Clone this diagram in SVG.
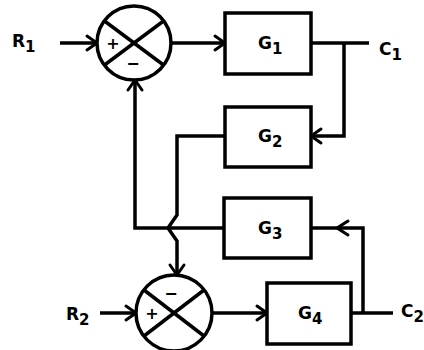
<svg xmlns="http://www.w3.org/2000/svg" width="424" height="350" viewBox="0 0 424 350">
<style>
.ln{fill:none;stroke:#000;stroke-width:3.5;stroke-linejoin:miter}
.bx{fill:#fff;stroke:#000;stroke-width:3.5}
.sj{fill:#fff;stroke:#000;stroke-width:3.5}
.t{font-family:"DejaVu Sans",Verdana,sans-serif;font-weight:bold;font-size:17px;fill:#000}
.s{font-size:15px}
.sg{font-family:"DejaVu Sans",Verdana,sans-serif;font-weight:bold;font-size:16px;fill:#000;text-anchor:middle}
.ah{fill:none;stroke:#000;stroke-width:3;stroke-linecap:round}
</style>
<defs>
<marker id="arr" markerUnits="userSpaceOnUse" markerWidth="14" markerHeight="18" refX="11" refY="8" orient="auto" overflow="visible">
<path d="M1,1 L11,8 L1,15" class="ah"/>
</marker>
</defs>
<rect width="424" height="350" fill="#fff"/>
<g id="connectors">
<line class="ln" x1="60" y1="43" x2="97" y2="43" marker-end="url(#arr)"/>
<line class="ln" x1="171" y1="43" x2="225" y2="43" marker-end="url(#arr)"/>
<line class="ln" x1="311" y1="43" x2="369" y2="43"/>
<polyline class="ln" points="344,43 344,136 311,136" marker-end="url(#arr)"/>
<polyline class="ln" points="225,136 177,136 177,215 168,228 177,241 177,275" marker-end="url(#arr)"/>
<polyline class="ln" points="363,313 363,228 337,228"/>
<line class="ln" x1="337" y1="228" x2="311" y2="228"/>
<path class="ah" d="M348,221 L337,228 L348,235"/>
<polyline class="ln" points="224,228 135,228 135,80" marker-end="url(#arr)"/>
<line class="ln" x1="100" y1="313" x2="136" y2="313" marker-end="url(#arr)"/>
<line class="ln" x1="212" y1="313" x2="267" y2="313" marker-end="url(#arr)"/>
<line class="ln" x1="351" y1="313" x2="393" y2="313"/>
</g>
<g id="sum1">
<circle class="sj" cx="134" cy="43" r="37"/>
<line class="ln" x1="104.5" y1="21" x2="163.5" y2="65"/>
<line class="ln" x1="163.5" y1="21" x2="104.5" y2="65"/>
<text class="sg" x="113" y="49">+</text>
<text class="sg" x="133" y="69">−</text>
</g>
<g id="sum2">
<circle class="sj" cx="174" cy="313" r="38"/>
<line class="ln" x1="144" y1="290" x2="204" y2="336"/>
<line class="ln" x1="204" y1="290" x2="144" y2="336"/>
<text class="sg" x="171" y="299">−</text>
<text class="sg" x="152" y="319">+</text>
</g>
<g id="G1">
<rect class="bx" x="225" y="13" width="86" height="61"/>
<text class="t" x="258" y="49">G<tspan class="s" dy="5">1</tspan></text>
</g>
<g id="G2">
<rect class="bx" x="225" y="107" width="86" height="60"/>
<text class="t" x="258" y="142">G<tspan class="s" dy="5">2</tspan></text>
</g>
<g id="G3">
<rect class="bx" x="224" y="198" width="87" height="60"/>
<text class="t" x="258" y="234">G<tspan class="s" dy="5">3</tspan></text>
</g>
<g id="G4">
<rect class="bx" x="267" y="283" width="84" height="61"/>
<text class="t" x="298" y="319">G<tspan class="s" dy="5">4</tspan></text>
</g>
<g id="labels">
<text class="t" x="12" y="47">R<tspan class="s" dy="5">1</tspan></text>
<text class="t" x="379" y="55">C<tspan class="s" dy="5">1</tspan></text>
<text class="t" x="66" y="320">R<tspan class="s" dy="5">2</tspan></text>
<text class="t" x="401" y="317">C<tspan class="s" dy="5">2</tspan></text>
</g>
</svg>
